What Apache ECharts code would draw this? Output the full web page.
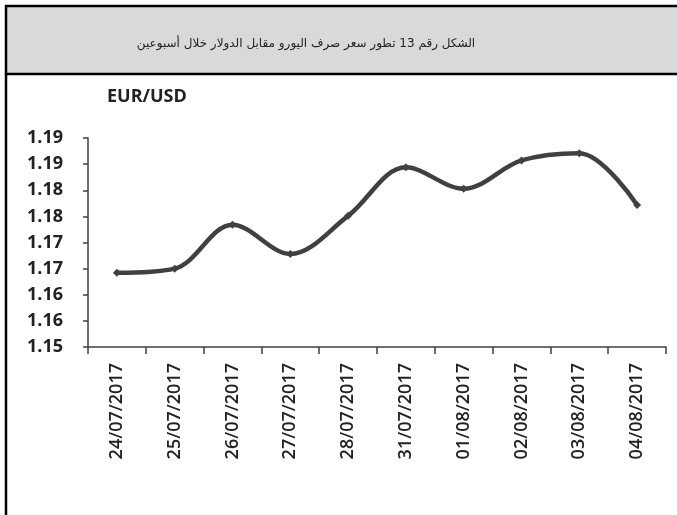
<!DOCTYPE html>
<html>
<head>
<meta charset="utf-8">
<script src="https://cdn.jsdelivr.net/npm/echarts@6/dist/echarts.min.js"></script>
<style>
  html, body { margin: 0; padding: 0; background: #fff; }
  #chart { width: 677px; height: 515px; }
</style>
</head>
<body>
<div id="chart"></div>
<script>
// Données
const dates = ['24/07/2017', '25/07/2017', '26/07/2017', '27/07/2017', '28/07/2017',
               '31/07/2017', '01/08/2017', '02/08/2017', '03/08/2017', '04/08/2017'];
const eurUsd = [1.1642, 1.1650, 1.1734, 1.1678, 1.1751, 1.1844, 1.1803, 1.1857, 1.1871, 1.1772];
// étiquettes de l'axe Y (arrondies à 2 décimales comme dans l'original)
const yTickLabels = ['1.15', '1.16', '1.16', '1.17', '1.17', '1.18', '1.18', '1.19', '1.19'];
const titleText = 'الشكل رقم 13 تطور سعر صرف اليورو مقابل الدولار خلال أسبوعين';

const yMin = 1.15, yMax = 1.19, yStep = 0.005;
const ink = '#404040';
const font = 'Open Sans';

const chart = echarts.init(document.getElementById('chart'), null, { renderer: 'canvas' });

chart.setOption({
    backgroundColor: '#fff',
    animation: false,
    graphic: [
        {
            type: 'rect',
            z: 0,
            shape: { x: 6, y: 6, width: 690, height: 68 },
            style: { fill: '#d9d9d9', stroke: '#000', lineWidth: 2.5 }
        },
        {
            type: 'line',
            z: 0,
            shape: { x1: 6, y1: 74, x2: 6, y2: 530 },
            style: { stroke: '#000', lineWidth: 2.5 }
        }
    ],
    title: {
        text: titleText,
        left: 301,
        top: 33,
        textAlign: 'center',
        textStyle: { fontFamily: 'DejaVu Sans', fontSize: 12, fontWeight: 'normal', color: '#222' }
    },
    grid: { left: 88, right: 11, top: 138, bottom: 168, containLabel: false },
    xAxis: {
        type: 'category',
        data: dates,
        boundaryGap: true,
        axisLine: { lineStyle: { color: ink, width: 1.5 } },
        axisTick: { show: true, alignWithLabel: false, length: 7, lineStyle: { color: ink, width: 1.5 } },
        axisLabel: {
            rotate: 90,
            interval: 0,
            margin: 16,
            fontFamily: font,
            fontSize: 18,
            fontWeight: 600,
            color: '#222'
        },
        splitLine: { show: false }
    },
    yAxis: {
        type: 'value',
        min: yMin,
        max: yMax,
        interval: yStep,
        name: 'EUR/USD',
        nameLocation: 'end',
        nameGap: 32,
        nameTextStyle: {
            align: 'left',
            padding: [0, 0, 0, 19],
            fontFamily: font,
            fontSize: 18,
            fontWeight: 'bold',
            color: '#222'
        },
        axisLine: { show: true, lineStyle: { color: ink, width: 1.5 } },
        axisTick: { show: true, inside: false, length: 5, lineStyle: { color: ink, width: 1.5 } },
        axisLabel: {
            margin: 25,
            fontFamily: font,
            fontSize: 18,
            fontWeight: 'bold',
            color: '#222',
            formatter: v => yTickLabels[Math.round((v - yMin) / yStep)] || ''
        },
        splitLine: { show: false }
    },
    series: [{
        type: 'line',
        data: eurUsd,
        smooth: 0.35,
        symbol: 'diamond',
        symbolSize: 8,
        itemStyle: { color: ink },
        lineStyle: { color: ink, width: 4.5 }
    }]
});
</script>
</body>
</html>
